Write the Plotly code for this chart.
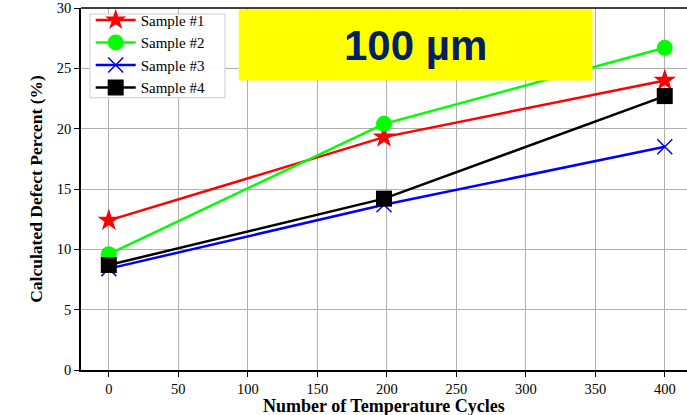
import plotly.graph_objects as go

cycles = [0, 198, 400]
sample1 = [12.4, 19.3, 24.0]
sample2 = [9.6, 20.4, 26.7]
sample3 = [8.4, 13.7, 18.5]
sample4 = [8.7, 14.2, 22.7]

series = [
    ("Sample #1", sample1, "#ff0000", "star", 17),
    ("Sample #2", sample2, "#00ff00", "circle", 16),
    ("Sample #3", sample3, "#0000ff", "x-thin-open", 15),
    ("Sample #4", sample4, "#000000", "square", 16),
]

fig = go.Figure()
for name, vals, color, sym, size in series:
    fig.add_trace(go.Scatter(
        x=cycles, y=vals, name=name, mode="lines+markers",
        line=dict(color=color, width=2.5),
        marker=dict(symbol=sym, size=size, color=color,
                    line=dict(color=color, width=1.5 if sym == "x-thin-open" else 0)),
    ))

fig.add_shape(type="rect", xref="x", yref="y", x0=93.5, x1=348, y0=24.0, y1=29.9,
              fillcolor="#ffff00", line=dict(width=0), layer="above")
fig.add_annotation(x=221, y=26.9, xref="x", yref="y", text="<b>100 µm</b>",
                   showarrow=False, font=dict(family="Liberation Sans, Arial", size=42, color="#002060"))

# legend frame
fig.add_shape(type="rect", xref="paper", yref="paper", x0=0.0149, x1=0.2376, y0=0.752, y1=0.9834,
              fillcolor="rgba(255,255,255,0.92)", line=dict(color="#cccccc", width=1), layer="above")

# x-axis title as an annotation anchored at the bottom edge
fig.add_annotation(x=0.5, xref="paper", y=0, yref="paper", yanchor="top", yshift=-24,
                   text="<b>Number of Temperature Cycles</b>", showarrow=False,
                   font=dict(family="Liberation Serif, Times New Roman", size=18, color="black"))

axis_common = dict(
    showgrid=True, gridcolor="#b0b0b0", gridwidth=1,
    showline=True, linecolor="black", linewidth=1.5,
    ticks="outside", ticklen=5, tickcolor="black",
    tickfont=dict(family="Liberation Serif, Times New Roman", size=14.5, color="black"),
    zeroline=False, ticklabeloverflow="allow",
)

fig.update_layout(
    width=687, height=415,
    margin=dict(l=81, r=0, t=8, b=45, autoexpand=False),
    paper_bgcolor="white", plot_bgcolor="white",
    xaxis=dict(range=[-20, 416], tickvals=list(range(0, 401, 50)), mirror=False,
               **axis_common),
    yaxis=dict(range=[0, 30], tickvals=list(range(0, 31, 5)),
               title=dict(text="<b>Calculated Defect Percent (%)</b>", standoff=10,
                          font=dict(family="Liberation Serif, Times New Roman", size=17.5, color="black")),
               **axis_common),
    legend=dict(x=0.016, y=1.012, xanchor="left", yanchor="top",
                bgcolor="rgba(0,0,0,0)", borderwidth=0,
                font=dict(family="Liberation Serif, Times New Roman", size=15, color="black"),
                tracegroupgap=0, itemwidth=40),
    showlegend=True,
)
fig.add_shape(type="line", xref="paper", yref="paper", x0=0, x1=1, y0=1, y1=1,
              line=dict(color="black", width=1.5))

fig.write_html("out.html")
